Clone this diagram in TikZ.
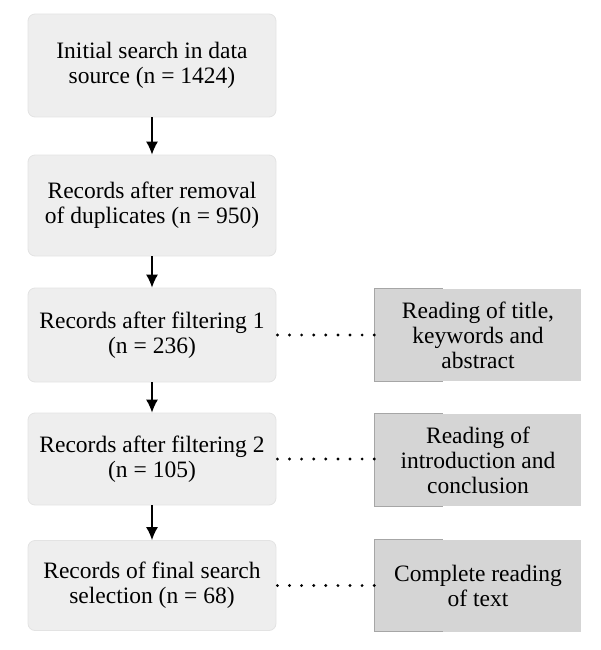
\documentclass[tikz,border=0pt]{standalone}
\usepackage{fontspec}
\setmainfont{Liberation Serif}
\usetikzlibrary{arrows.meta}

\begin{document}
\begin{tikzpicture}[x = 1pt, y = -1pt, > = {Latex[length = 13pt, width = 12pt]},
	record/.style = {fill = gray!13, draw = gray!22, line width = 0.8pt, rounded corners = 7pt,
		minimum width = 248pt, inner sep = 0pt, align = center, text = black,
		font = \fontsize{23.5}{25}\selectfont},
	reading/.style = {fill = gray!33, minimum width = 206pt, minimum height = 92pt,
		inner sep = 0pt, align = center, text = black, font = \fontsize{23.5}{25}\selectfont},
	flow/.style = {->, line width = 1.4pt},
	link/.style = {line width = 3.2pt, line cap = round, dash pattern = on 0pt off 12.1pt}]

	\useasboundingbox (0, 0) rectangle (600, 650);

	% Search steps

	\node [record, minimum height = 103pt] (search) at (152, 65.5) {Initial search in data\\source (n = 1424)};
	\node [record, minimum height = 101pt] (dedup) at (152, 205.5) {Records after removal\\of duplicates (n = 950)};
	\node [record, minimum height = 94pt] (filter1) at (152, 335) {Records after filtering 1\\(n = 236)};
	\node [record, minimum height = 92pt] (filter2) at (152, 459) {Records after filtering 2\\(n = 105)};
	\node [record, minimum height = 90pt] (final) at (152, 585.5) {Records of final search\\selection (n = 68)};

	\draw [flow] (search) -- (dedup);
	\draw [flow] (dedup) -- (filter1);
	\draw [flow] (filter1) -- (filter2);
	\draw [flow] (filter2) -- (final);

	% Reading criteria

	\node [reading] (read1) at (478, 335) {Reading of title,\\keywords and\\abstract};
	\node [reading] (read2) at (478, 460) {Reading of\\introduction and\\conclusion};
	\node [reading] (read3) at (478, 585.5) {Complete reading\\of text};

	\foreach \r in {read1, read2, read3}
		\draw [gray!70, line width = 1pt] ([xshift = 68pt] \r.north west) -- (\r.north west)
			-- (\r.south west) -- ([xshift = 68pt] \r.south west);

	% Dotted links

	\draw [link] ([xshift = 1pt] filter1.east) -- ([xshift = 1pt] filter1.east -| read1.west);
	\draw [link] ([xshift = 1pt] filter2.east) -- ([xshift = 1pt] filter2.east -| read2.west);
	\draw [link] ([xshift = 1pt] final.east) -- ([xshift = 1pt] final.east -| read3.west);

\end{tikzpicture}
\end{document}
